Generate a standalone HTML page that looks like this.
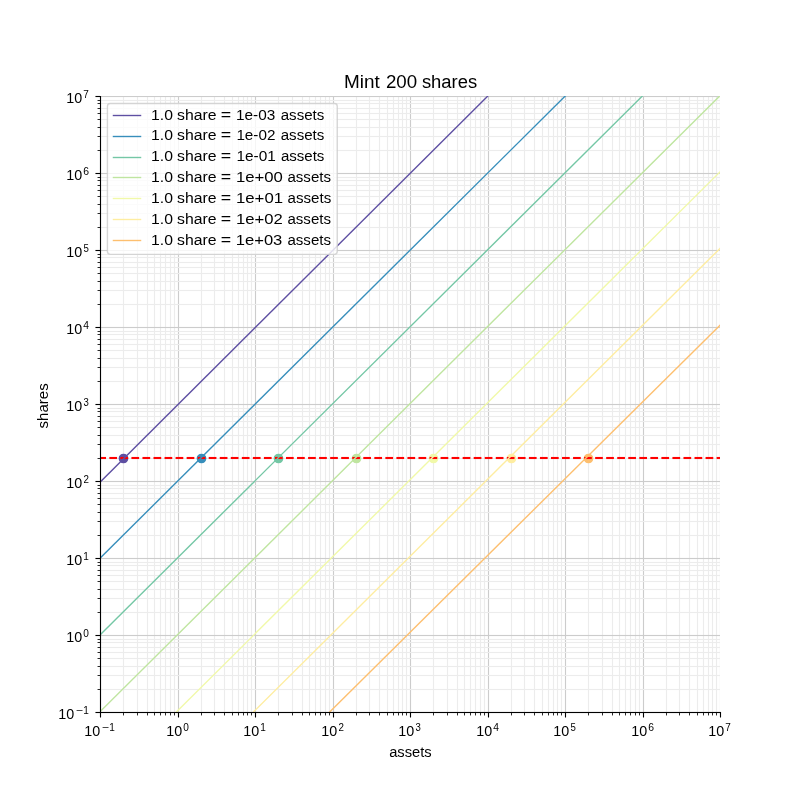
<!DOCTYPE html>
<html><head><meta charset="utf-8"><title>Mint 200 shares</title>
<style>
html,body{margin:0;padding:0;background:#fff;}
svg{display:block;will-change:transform;}
text{font-family:"Liberation Sans",sans-serif;fill:#000;}
</style></head><body>
<svg width="800" height="800" viewBox="0 0 800 800">
<defs><clipPath id="ax"><rect x="100" y="96" width="620" height="616"/></clipPath></defs>
<rect class="g" x="0" y="0" width="800" height="800" fill="#fff"/>
<g class="g" clip-path="url(#ax)" fill="none" stroke-width="1.111">
<path stroke="#cccccc" d="M100.5 96.0V712.5M178.5 96.0V712.5M255.5 96.0V712.5M333.5 96.0V712.5M410.5 96.0V712.5M488.5 96.0V712.5M565.5 96.0V712.5M643.5 96.0V712.5M720.5 96.0V712.5"/>
<path stroke="#ececec" d="M123.5 96.0V712.5M137.5 96.0V712.5M147.5 96.0V712.5M154.5 96.0V712.5M160.5 96.0V712.5M165.5 96.0V712.5M170.5 96.0V712.5M174.5 96.0V712.5M201.5 96.0V712.5M214.5 96.0V712.5M224.5 96.0V712.5M232.5 96.0V712.5M238.5 96.0V712.5M243.5 96.0V712.5M247.5 96.0V712.5M251.5 96.0V712.5M278.5 96.0V712.5M292.5 96.0V712.5M302.5 96.0V712.5M309.5 96.0V712.5M315.5 96.0V712.5M320.5 96.0V712.5M325.5 96.0V712.5M329.5 96.0V712.5M356.5 96.0V712.5M369.5 96.0V712.5M379.5 96.0V712.5M387.5 96.0V712.5M393.5 96.0V712.5M398.5 96.0V712.5M402.5 96.0V712.5M406.5 96.0V712.5M433.5 96.0V712.5M447.5 96.0V712.5M457.5 96.0V712.5M464.5 96.0V712.5M470.5 96.0V712.5M475.5 96.0V712.5M480.5 96.0V712.5M484.5 96.0V712.5M511.5 96.0V712.5M524.5 96.0V712.5M534.5 96.0V712.5M542.5 96.0V712.5M548.5 96.0V712.5M553.5 96.0V712.5M557.5 96.0V712.5M561.5 96.0V712.5M588.5 96.0V712.5M602.5 96.0V712.5M612.5 96.0V712.5M619.5 96.0V712.5M625.5 96.0V712.5M630.5 96.0V712.5M635.5 96.0V712.5M639.5 96.0V712.5M666.5 96.0V712.5M679.5 96.0V712.5M689.5 96.0V712.5M697.5 96.0V712.5M703.5 96.0V712.5M708.5 96.0V712.5M712.5 96.0V712.5M716.5 96.0V712.5"/>
<path stroke="#cccccc" d="M100.0 712.5H720.5M100.0 635.5H720.5M100.0 558.5H720.5M100.0 481.5H720.5M100.0 404.5H720.5M100.0 327.5H720.5M100.0 250.5H720.5M100.0 173.5H720.5M100.0 96.5H720.5"/>
<path stroke="#cccccc" stroke-opacity="0.0556" stroke-width="1" d="M100.0 711.5H720.5M100.0 713.5H720.5M100.0 634.5H720.5M100.0 636.5H720.5M100.0 557.5H720.5M100.0 559.5H720.5M100.0 480.5H720.5M100.0 482.5H720.5M100.0 403.5H720.5M100.0 405.5H720.5M100.0 326.5H720.5M100.0 328.5H720.5M100.0 249.5H720.5M100.0 251.5H720.5M100.0 172.5H720.5M100.0 174.5H720.5M100.0 95.5H720.5M100.0 97.5H720.5"/>
<path stroke="#ececec" d="M100.0 689.5H720.5M100.0 675.5H720.5M100.0 666.5H720.5M100.0 658.5H720.5M100.0 652.5H720.5M100.0 647.5H720.5M100.0 642.5H720.5M100.0 639.5H720.5M100.0 612.5H720.5M100.0 598.5H720.5M100.0 589.5H720.5M100.0 581.5H720.5M100.0 575.5H720.5M100.0 570.5H720.5M100.0 565.5H720.5M100.0 562.5H720.5M100.0 535.5H720.5M100.0 521.5H720.5M100.0 512.5H720.5M100.0 504.5H720.5M100.0 498.5H720.5M100.0 493.5H720.5M100.0 488.5H720.5M100.0 485.5H720.5M100.0 458.5H720.5M100.0 444.5H720.5M100.0 435.5H720.5M100.0 427.5H720.5M100.0 421.5H720.5M100.0 416.5H720.5M100.0 411.5H720.5M100.0 408.5H720.5M100.0 381.5H720.5M100.0 367.5H720.5M100.0 358.5H720.5M100.0 350.5H720.5M100.0 344.5H720.5M100.0 339.5H720.5M100.0 334.5H720.5M100.0 331.5H720.5M100.0 304.5H720.5M100.0 290.5H720.5M100.0 281.5H720.5M100.0 273.5H720.5M100.0 267.5H720.5M100.0 262.5H720.5M100.0 257.5H720.5M100.0 254.5H720.5M100.0 227.5H720.5M100.0 213.5H720.5M100.0 204.5H720.5M100.0 196.5H720.5M100.0 190.5H720.5M100.0 185.5H720.5M100.0 180.5H720.5M100.0 177.5H720.5M100.0 150.5H720.5M100.0 136.5H720.5M100.0 127.5H720.5M100.0 119.5H720.5M100.0 113.5H720.5M100.0 108.5H720.5M100.0 103.5H720.5M100.0 100.5H720.5"/>
<path stroke="#ececec" stroke-opacity="0.0556" stroke-width="1" d="M100.0 688.5H720.5M100.0 690.5H720.5M100.0 674.5H720.5M100.0 676.5H720.5M100.0 665.5H720.5M100.0 667.5H720.5M100.0 657.5H720.5M100.0 659.5H720.5M100.0 651.5H720.5M100.0 653.5H720.5M100.0 646.5H720.5M100.0 648.5H720.5M100.0 641.5H720.5M100.0 643.5H720.5M100.0 638.5H720.5M100.0 640.5H720.5M100.0 611.5H720.5M100.0 613.5H720.5M100.0 597.5H720.5M100.0 599.5H720.5M100.0 588.5H720.5M100.0 590.5H720.5M100.0 580.5H720.5M100.0 582.5H720.5M100.0 574.5H720.5M100.0 576.5H720.5M100.0 569.5H720.5M100.0 571.5H720.5M100.0 564.5H720.5M100.0 566.5H720.5M100.0 561.5H720.5M100.0 563.5H720.5M100.0 534.5H720.5M100.0 536.5H720.5M100.0 520.5H720.5M100.0 522.5H720.5M100.0 511.5H720.5M100.0 513.5H720.5M100.0 503.5H720.5M100.0 505.5H720.5M100.0 497.5H720.5M100.0 499.5H720.5M100.0 492.5H720.5M100.0 494.5H720.5M100.0 487.5H720.5M100.0 489.5H720.5M100.0 484.5H720.5M100.0 486.5H720.5M100.0 457.5H720.5M100.0 459.5H720.5M100.0 443.5H720.5M100.0 445.5H720.5M100.0 434.5H720.5M100.0 436.5H720.5M100.0 426.5H720.5M100.0 428.5H720.5M100.0 420.5H720.5M100.0 422.5H720.5M100.0 415.5H720.5M100.0 417.5H720.5M100.0 410.5H720.5M100.0 412.5H720.5M100.0 407.5H720.5M100.0 409.5H720.5M100.0 380.5H720.5M100.0 382.5H720.5M100.0 366.5H720.5M100.0 368.5H720.5M100.0 357.5H720.5M100.0 359.5H720.5M100.0 349.5H720.5M100.0 351.5H720.5M100.0 343.5H720.5M100.0 345.5H720.5M100.0 338.5H720.5M100.0 340.5H720.5M100.0 333.5H720.5M100.0 335.5H720.5M100.0 330.5H720.5M100.0 332.5H720.5M100.0 303.5H720.5M100.0 305.5H720.5M100.0 289.5H720.5M100.0 291.5H720.5M100.0 280.5H720.5M100.0 282.5H720.5M100.0 272.5H720.5M100.0 274.5H720.5M100.0 266.5H720.5M100.0 268.5H720.5M100.0 261.5H720.5M100.0 263.5H720.5M100.0 256.5H720.5M100.0 258.5H720.5M100.0 253.5H720.5M100.0 255.5H720.5M100.0 226.5H720.5M100.0 228.5H720.5M100.0 212.5H720.5M100.0 214.5H720.5M100.0 203.5H720.5M100.0 205.5H720.5M100.0 195.5H720.5M100.0 197.5H720.5M100.0 189.5H720.5M100.0 191.5H720.5M100.0 184.5H720.5M100.0 186.5H720.5M100.0 179.5H720.5M100.0 181.5H720.5M100.0 176.5H720.5M100.0 178.5H720.5M100.0 149.5H720.5M100.0 151.5H720.5M100.0 135.5H720.5M100.0 137.5H720.5M100.0 126.5H720.5M100.0 128.5H720.5M100.0 118.5H720.5M100.0 120.5H720.5M100.0 112.5H720.5M100.0 114.5H720.5M100.0 107.5H720.5M100.0 109.5H720.5M100.0 102.5H720.5M100.0 104.5H720.5M100.0 99.5H720.5M100.0 101.5H720.5"/>
</g>
<g class="g" clip-path="url(#ax)">
<circle cx="123.5" cy="458.5" r="4.167" fill="#5e4fa2" stroke="#5e4fa2" stroke-width="1.389"/>
<circle cx="201.5" cy="458.5" r="4.167" fill="#378ebb" stroke="#378ebb" stroke-width="1.389"/>
<circle cx="278.5" cy="458.5" r="4.167" fill="#74c7a5" stroke="#74c7a5" stroke-width="1.389"/>
<circle cx="356.5" cy="458.5" r="4.167" fill="#bfe5a0" stroke="#bfe5a0" stroke-width="1.389"/>
<circle cx="433.5" cy="458.5" r="4.167" fill="#f1f9a9" stroke="#f1f9a9" stroke-width="1.389"/>
<circle cx="511.5" cy="458.5" r="4.167" fill="#feeda1" stroke="#feeda1" stroke-width="1.389"/>
<circle cx="588.5" cy="458.5" r="4.167" fill="#fdbf6f" stroke="#fdbf6f" stroke-width="1.389"/>
<path d="M98.3 458H725" stroke="#ff0000" stroke-width="2.083" stroke-dasharray="7.708 3.333" fill="none"/>
<path d="M98.3 456.5H725M98.3 459.5H725" stroke="#ff0000" stroke-opacity="0.05" stroke-width="1" stroke-dasharray="7.708 3.333" fill="none"/>
<path d="M-219.207 800.0L584.259 0.0" stroke="#5e4fa2" stroke-width="1.389" fill="none"/>
<path d="M-143.321 800.0L661.873 0.0" stroke="#378ebb" stroke-width="1.389" fill="none"/>
<path d="M-66.171 800.0L739.023 0.0" stroke="#74c7a5" stroke-width="1.389" fill="none"/>
<path d="M11.129 800.0L816.323 0.0" stroke="#bfe5a0" stroke-width="1.389" fill="none"/>
<path d="M87.779 800.0L892.973 0.0" stroke="#f1f9a9" stroke-width="1.389" fill="none"/>
<path d="M164.829 800.0L970.023 0.0" stroke="#feeda1" stroke-width="1.389" fill="none"/>
<path d="M240.879 800.0L1048.073 0.0" stroke="#fdbf6f" stroke-width="1.389" fill="none"/>
</g>
<g class="g" stroke="#000" fill="none">
<path d="M100.5 96.5V712.5H720.5" stroke-width="1.111" stroke-linecap="square" stroke-linejoin="miter"/>
<path d="M100.5 712.5H95.45M100.5 635.5H95.45M100.5 558.5H95.45M100.5 481.5H95.45M100.5 404.5H95.45M100.5 327.5H95.45M100.5 250.5H95.45M100.5 173.5H95.45M100.5 96.5H95.45M100.5 712.5V717.55M178.5 712.5V717.55M255.5 712.5V717.55M333.5 712.5V717.55M410.5 712.5V717.55M488.5 712.5V717.55M565.5 712.5V717.55M643.5 712.5V717.55M720.5 712.5V717.55" stroke-width="1.111"/>
<path d="M100 711.5H721M100 713.5H721M100 711.5H95.45M100 713.5H95.45M100 634.5H95.45M100 636.5H95.45M100 557.5H95.45M100 559.5H95.45M100 480.5H95.45M100 482.5H95.45M100 403.5H95.45M100 405.5H95.45M100 326.5H95.45M100 328.5H95.45M100 249.5H95.45M100 251.5H95.45M100 172.5H95.45M100 174.5H95.45M100 95.5H95.45M100 97.5H95.45" stroke-width="1" stroke-opacity="0.055"/>
<path d="M100.5 689.5H97.55M100.5 675.5H97.55M100.5 666.5H97.55M100.5 658.5H97.55M100.5 652.5H97.55M100.5 647.5H97.55M100.5 642.5H97.55M100.5 639.5H97.55M100.5 612.5H97.55M100.5 598.5H97.55M100.5 589.5H97.55M100.5 581.5H97.55M100.5 575.5H97.55M100.5 570.5H97.55M100.5 565.5H97.55M100.5 562.5H97.55M100.5 535.5H97.55M100.5 521.5H97.55M100.5 512.5H97.55M100.5 504.5H97.55M100.5 498.5H97.55M100.5 493.5H97.55M100.5 488.5H97.55M100.5 485.5H97.55M100.5 458.5H97.55M100.5 444.5H97.55M100.5 435.5H97.55M100.5 427.5H97.55M100.5 421.5H97.55M100.5 416.5H97.55M100.5 411.5H97.55M100.5 408.5H97.55M100.5 381.5H97.55M100.5 367.5H97.55M100.5 358.5H97.55M100.5 350.5H97.55M100.5 344.5H97.55M100.5 339.5H97.55M100.5 334.5H97.55M100.5 331.5H97.55M100.5 304.5H97.55M100.5 290.5H97.55M100.5 281.5H97.55M100.5 273.5H97.55M100.5 267.5H97.55M100.5 262.5H97.55M100.5 257.5H97.55M100.5 254.5H97.55M100.5 227.5H97.55M100.5 213.5H97.55M100.5 204.5H97.55M100.5 196.5H97.55M100.5 190.5H97.55M100.5 185.5H97.55M100.5 180.5H97.55M100.5 177.5H97.55M100.5 150.5H97.55M100.5 136.5H97.55M100.5 127.5H97.55M100.5 119.5H97.55M100.5 113.5H97.55M100.5 108.5H97.55M100.5 103.5H97.55M100.5 100.5H97.55M123.5 712.5V715.45M137.5 712.5V715.45M147.5 712.5V715.45M154.5 712.5V715.45M160.5 712.5V715.45M165.5 712.5V715.45M170.5 712.5V715.45M174.5 712.5V715.45M201.5 712.5V715.45M214.5 712.5V715.45M224.5 712.5V715.45M232.5 712.5V715.45M238.5 712.5V715.45M243.5 712.5V715.45M247.5 712.5V715.45M251.5 712.5V715.45M278.5 712.5V715.45M292.5 712.5V715.45M302.5 712.5V715.45M309.5 712.5V715.45M315.5 712.5V715.45M320.5 712.5V715.45M325.5 712.5V715.45M329.5 712.5V715.45M356.5 712.5V715.45M369.5 712.5V715.45M379.5 712.5V715.45M387.5 712.5V715.45M393.5 712.5V715.45M398.5 712.5V715.45M402.5 712.5V715.45M406.5 712.5V715.45M433.5 712.5V715.45M447.5 712.5V715.45M457.5 712.5V715.45M464.5 712.5V715.45M470.5 712.5V715.45M475.5 712.5V715.45M480.5 712.5V715.45M484.5 712.5V715.45M511.5 712.5V715.45M524.5 712.5V715.45M534.5 712.5V715.45M542.5 712.5V715.45M548.5 712.5V715.45M553.5 712.5V715.45M557.5 712.5V715.45M561.5 712.5V715.45M588.5 712.5V715.45M602.5 712.5V715.45M612.5 712.5V715.45M619.5 712.5V715.45M625.5 712.5V715.45M630.5 712.5V715.45M635.5 712.5V715.45M639.5 712.5V715.45M666.5 712.5V715.45M679.5 712.5V715.45M689.5 712.5V715.45M697.5 712.5V715.45M703.5 712.5V715.45M708.5 712.5V715.45M712.5 712.5V715.45M716.5 712.5V715.45" stroke-width="0.833"/>
</g>
<g class="g">
<rect x="107.44" y="103.44" width="229.8" height="150.95" rx="2.78" ry="2.78" fill="#fff" fill-opacity="0.8" stroke="#cccccc" stroke-opacity="0.8" stroke-width="1.389"/>
<path d="M112.75 115.5H141.25" stroke="#5e4fa2" stroke-width="1.389" fill="none"/>
<path d="M112.75 136.5H141.25" stroke="#378ebb" stroke-width="1.389" fill="none"/>
<path d="M112.75 157.5H141.25" stroke="#74c7a5" stroke-width="1.389" fill="none"/>
<path d="M112.75 177.5H141.25" stroke="#bfe5a0" stroke-width="1.389" fill="none"/>
<path d="M112.75 198.5H141.25" stroke="#f1f9a9" stroke-width="1.389" fill="none"/>
<path d="M112.75 219.5H141.25" stroke="#feeda1" stroke-width="1.389" fill="none"/>
<path d="M112.75 240.5H141.25" stroke="#fdbf6f" stroke-width="1.389" fill="none"/>
</g>
<text class="p0" transform="translate(58.352,718.793) scale(0.9753,1)" font-size="14.7">10</text>
<text class="p1" transform="translate(75.870,713.925) scale(1.1814,1)" font-size="10.3">−</text>
<text class="p0" transform="translate(83.126,713.630) scale(0.9789,1)" font-size="10.3">1</text>
<text class="p1" transform="translate(84.352,735.793) scale(0.9753,1)" font-size="14.7">10</text>
<text class="p0" transform="translate(101.870,730.925) scale(1.1814,1)" font-size="10.3">−</text>
<text class="p1" transform="translate(109.126,730.630) scale(0.9789,1)" font-size="10.3">1</text>
<text class="p0" transform="translate(66.352,641.793) scale(0.9753,1)" font-size="14.7">10</text>
<text class="p1" transform="translate(83.338,637.120) scale(0.9786,1)" font-size="10.3">0</text>
<text class="p0" transform="translate(166.352,735.793) scale(0.9753,1)" font-size="14.7">10</text>
<text class="p1" transform="translate(183.338,731.120) scale(0.9786,1)" font-size="10.3">0</text>
<text class="p0" transform="translate(66.352,564.793) scale(0.9753,1)" font-size="14.7">10</text>
<text class="p1" transform="translate(83.126,559.630) scale(0.9789,1)" font-size="10.3">1</text>
<text class="p0" transform="translate(243.352,735.793) scale(0.9753,1)" font-size="14.7">10</text>
<text class="p1" transform="translate(260.126,730.630) scale(0.9789,1)" font-size="10.3">1</text>
<text class="p0" transform="translate(66.352,487.793) scale(0.9753,1)" font-size="14.7">10</text>
<text class="p1" transform="translate(83.474,482.741) scale(0.9504,1)" font-size="10.3">2</text>
<text class="p0" transform="translate(321.352,735.793) scale(0.9753,1)" font-size="14.7">10</text>
<text class="p1" transform="translate(338.474,730.741) scale(0.9504,1)" font-size="10.3">2</text>
<text class="p0" transform="translate(66.352,410.793) scale(0.9753,1)" font-size="14.7">10</text>
<text class="p1" transform="translate(83.589,406.459) scale(0.9288,1)" font-size="10.3">3</text>
<text class="p0" transform="translate(398.352,735.793) scale(0.9753,1)" font-size="14.7">10</text>
<text class="p1" transform="translate(415.589,731.459) scale(0.9288,1)" font-size="10.3">3</text>
<text class="p0" transform="translate(66.352,333.793) scale(0.9753,1)" font-size="14.7">10</text>
<text class="p1" transform="translate(83.197,328.824) scale(1.0008,1)" font-size="10.3">4</text>
<text class="p0" transform="translate(476.352,735.793) scale(0.9753,1)" font-size="14.7">10</text>
<text class="p1" transform="translate(493.197,730.824) scale(1.0008,1)" font-size="10.3">4</text>
<text class="p0" transform="translate(66.352,256.793) scale(0.9753,1)" font-size="14.7">10</text>
<text class="p1" transform="translate(83.563,251.722) scale(0.9382,1)" font-size="10.3">5</text>
<text class="p0" transform="translate(553.352,735.793) scale(0.9753,1)" font-size="14.7">10</text>
<text class="p1" transform="translate(570.563,730.722) scale(0.9382,1)" font-size="10.3">5</text>
<text class="p0" transform="translate(66.352,179.793) scale(0.9753,1)" font-size="14.7">10</text>
<text class="p1" transform="translate(83.162,175.479) scale(1.0079,1)" font-size="10.3">6</text>
<text class="p0" transform="translate(631.352,735.793) scale(0.9753,1)" font-size="14.7">10</text>
<text class="p1" transform="translate(648.162,731.479) scale(1.0079,1)" font-size="10.3">6</text>
<text class="p0" transform="translate(66.352,102.793) scale(0.9753,1)" font-size="14.7">10</text>
<text class="p1" transform="translate(83.278,98.451) scale(0.9687,1)" font-size="10.3">7</text>
<text class="p0" transform="translate(708.352,735.793) scale(0.9753,1)" font-size="14.7">10</text>
<text class="p1" transform="translate(725.278,731.451) scale(0.9687,1)" font-size="10.3">7</text>
<text class="p0" transform="translate(343.980,88.300) scale(1.0733,1)" font-size="17.65">Mint</text>
<text class="p1" transform="translate(385.896,88.098) scale(1.0610,1)" font-size="17.65">200</text>
<text class="p0" transform="translate(421.921,88.473) scale(1.0429,1)" font-size="17.65">shares</text>
<text class="p1" transform="translate(389.142,756.721) scale(1.0005,1)" font-size="14.7">assets</text>
<text class="p0" transform="translate(47.503,428.436) rotate(-90) scale(1.0229,1)" font-size="14.7">shares</text>
<text class="p1" transform="translate(151.078,119.850) scale(1.0714,1)" font-size="14.7">1.0</text>
<text class="p0" transform="translate(177.113,119.945) scale(1.0733,1)" font-size="14.7">share</text>
<text class="p1" transform="translate(220.861,119.624) scale(1.2125,1)" font-size="14.7">=</text>
<text class="p0" transform="translate(236.013,119.968) scale(1.0455,1)" font-size="14.7">1e-03</text>
<text class="p1" transform="translate(280.719,119.758) scale(1.0282,1)" font-size="14.7">assets</text>
<text class="p0" transform="translate(151.078,139.850) scale(1.0714,1)" font-size="14.7">1.0</text>
<text class="p1" transform="translate(177.113,139.945) scale(1.0733,1)" font-size="14.7">share</text>
<text class="p0" transform="translate(220.861,139.624) scale(1.2125,1)" font-size="14.7">=</text>
<text class="p1" transform="translate(236.392,140.157) scale(1.0383,1)" font-size="14.7">1e-02</text>
<text class="p0" transform="translate(280.719,139.758) scale(1.0282,1)" font-size="14.7">assets</text>
<text class="p1" transform="translate(151.078,160.850) scale(1.0714,1)" font-size="14.7">1.0</text>
<text class="p0" transform="translate(177.113,160.945) scale(1.0733,1)" font-size="14.7">share</text>
<text class="p1" transform="translate(220.861,160.624) scale(1.2125,1)" font-size="14.7">=</text>
<text class="p0" transform="translate(236.408,160.887) scale(1.0490,1)" font-size="14.7">1e-01</text>
<text class="p1" transform="translate(280.882,160.738) scale(1.0252,1)" font-size="14.7">assets</text>
<text class="p0" transform="translate(151.078,181.850) scale(1.0714,1)" font-size="14.7">1.0</text>
<text class="p1" transform="translate(177.113,181.945) scale(1.0733,1)" font-size="14.7">share</text>
<text class="p0" transform="translate(220.861,181.624) scale(1.2125,1)" font-size="14.7">=</text>
<text class="p1" transform="translate(235.945,182.040) scale(1.1376,1)" font-size="14.7">1e+00</text>
<text class="p0" transform="translate(287.456,181.746) scale(1.0269,1)" font-size="14.7">assets</text>
<text class="p1" transform="translate(151.078,202.850) scale(1.0714,1)" font-size="14.7">1.0</text>
<text class="p0" transform="translate(177.113,202.945) scale(1.0733,1)" font-size="14.7">share</text>
<text class="p1" transform="translate(220.861,202.624) scale(1.2125,1)" font-size="14.7">=</text>
<text class="p0" transform="translate(235.954,202.908) scale(1.1413,1)" font-size="14.7">1e+01</text>
<text class="p1" transform="translate(287.603,202.741) scale(1.0286,1)" font-size="14.7">assets</text>
<text class="p0" transform="translate(151.078,223.850) scale(1.0714,1)" font-size="14.7">1.0</text>
<text class="p1" transform="translate(177.113,223.945) scale(1.0733,1)" font-size="14.7">share</text>
<text class="p0" transform="translate(220.861,223.624) scale(1.2125,1)" font-size="14.7">=</text>
<text class="p1" transform="translate(235.925,224.170) scale(1.1329,1)" font-size="14.7">1e+02</text>
<text class="p0" transform="translate(287.456,223.746) scale(1.0269,1)" font-size="14.7">assets</text>
<text class="p1" transform="translate(151.078,244.850) scale(1.0714,1)" font-size="14.7">1.0</text>
<text class="p0" transform="translate(177.113,244.945) scale(1.0733,1)" font-size="14.7">share</text>
<text class="p1" transform="translate(220.861,244.624) scale(1.2125,1)" font-size="14.7">=</text>
<text class="p0" transform="translate(235.727,245.005) scale(1.1296,1)" font-size="14.7">1e+03</text>
<text class="p1" transform="translate(287.456,244.746) scale(1.0269,1)" font-size="14.7">assets</text>
</svg>
</body></html>
